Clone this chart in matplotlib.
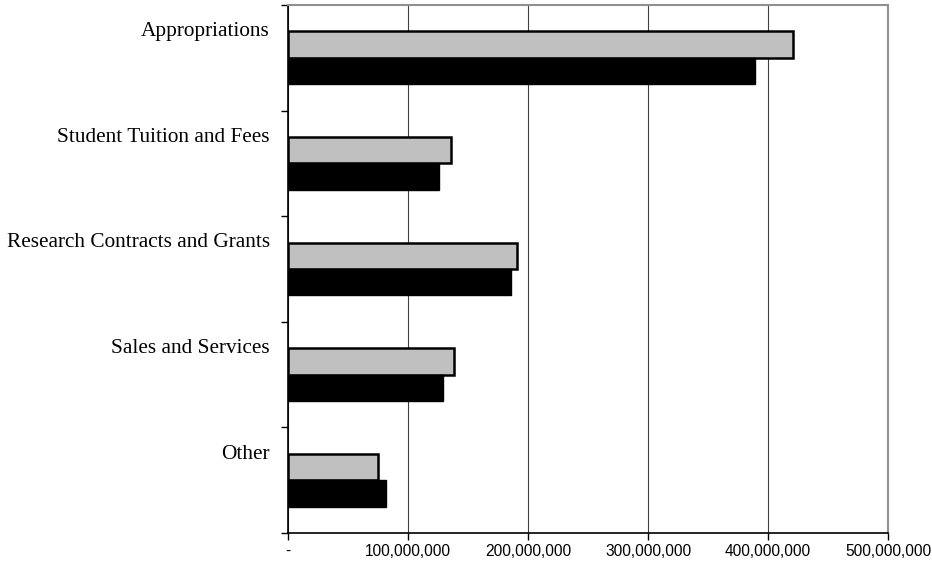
import numpy as np
import matplotlib.pyplot as plt
from matplotlib.ticker import FuncFormatter, FixedLocator

categories = ['Appropriations', 'Student Tuition and Fees', 'Research Contracts and Grants',
              'Sales and Services', 'Other']
series_gray = [421e6, 136e6, 191e6, 138e6, 75e6]
series_black = [389e6, 126e6, 186e6, 129e6, 82e6]
x_ticks = [0, 100e6, 200e6, 300e6, 400e6, 500e6]

fig = plt.figure(figsize=(9.32, 5.69), dpi=100)
ax = fig.add_axes([288 / 932, 1 - 533 / 569, 600 / 932, 528 / 569])

y = np.arange(len(categories))
h = 0.25
ax.barh(y - h / 2, series_gray, height=h, color='#c0c0c0', edgecolor='black', linewidth=1.8, zorder=3)
ax.barh(y + h / 2, series_black, height=h, color='black', edgecolor='black', linewidth=1, zorder=3)

ax.set_ylim(len(categories) - 0.5, -0.5)
ax.set_xlim(0, 500e6)

# category labels sit above the bar pair, boundary ticks between categories
ax.yaxis.set_major_locator(FixedLocator(y - 0.27))
ax.set_yticklabels(categories, family='Liberation Serif', fontsize=15.3)
ax.yaxis.set_minor_locator(FixedLocator(np.arange(-0.5, len(categories), 1)))
ax.tick_params(axis='y', which='major', length=0, pad=13)
ax.tick_params(axis='y', which='minor', length=5, width=1, direction='out')

ax.set_xticks(x_ticks)
ax.xaxis.set_major_formatter(FuncFormatter(lambda v, p: '-' if v == 0 else f'{v:,.0f}'))
for lbl in ax.get_xticklabels():
    lbl.set_family('Liberation Sans')
    lbl.set_fontsize(11.2)
ax.tick_params(axis='x', length=5, width=1, direction='out', pad=3)

ax.grid(axis='x', color='#404040', linewidth=0.8, zorder=0)
ax.spines['left'].set_color('black')
ax.spines['bottom'].set_color('black')
ax.spines['left'].set_linewidth(1.2)
ax.spines['bottom'].set_linewidth(1.2)
ax.spines['top'].set_color('#909090')
ax.spines['right'].set_color('#909090')
ax.spines['top'].set_linewidth(1.5)
ax.spines['right'].set_linewidth(1.5)

fig.savefig('out.png', dpi=100)
